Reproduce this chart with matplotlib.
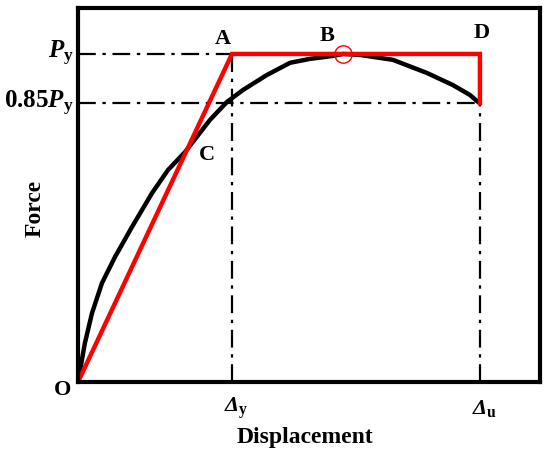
import numpy as np
import matplotlib
matplotlib.use("Agg")
import matplotlib.pyplot as plt

plt.rcParams['font.family'] = ['Liberation Serif', 'DejaVu Serif']
plt.rcParams['font.weight'] = 'bold'
plt.rcParams['mathtext.fontset'] = 'custom'
plt.rcParams['mathtext.rm'] = 'Liberation Serif:bold'
plt.rcParams['mathtext.bf'] = 'Liberation Serif:bold'
plt.rcParams['mathtext.it'] = 'Liberation Serif:italic:bold'
plt.rcParams['mathtext.sf'] = 'Liberation Serif:italic'

# normalised: yield displacement = 1, yield force = 1
dy = 1.0
du = 2.61
py = 1.0
p85 = 0.85 * py

# black skeleton curve
curve_x = [0.0, 0.045, 0.091, 0.156, 0.240, 0.351, 0.481, 0.584, 0.695,
           0.857, 0.968, 1.071, 1.227, 1.377, 1.506, 1.656, 1.721, 1.831,
           2.045, 2.266, 2.435, 2.545, 2.597, 2.61]
curve_y = [0.0, 0.119, 0.210, 0.302, 0.381, 0.473, 0.576, 0.646, 0.701,
           0.799, 0.854, 0.890, 0.936, 0.973, 0.985, 0.994, 1.0, 0.997,
           0.982, 0.942, 0.905, 0.875, 0.854, 0.85]

# red idealised line O-A-D
red_x = [0.0, dy, du, du]
red_y = [0.0, py, py, p85]

peak_x = 1.721
peak_y = 1.0

fig = plt.figure(figsize=(5.5, 4.53), dpi=100)
ax = fig.add_axes([0.1418, 0.1567, 0.84, 0.8256])
ax.set_xlim(0, 3.0)
ax.set_ylim(0, 1.14)

# dash-dot guide lines
dd = dict(color='black', lw=1.6, ls=(0, (8, 3, 1.5, 3)))
ax.plot([0, dy], [py, py], **dd)
ax.plot([0, du], [p85, p85], **dd)
ax.plot([dy, dy], [0, py], **dd)
ax.plot([du, du], [0, p85], **dd)

ax.plot(curve_x, curve_y, color='black', lw=3.2, solid_capstyle='round',
        solid_joinstyle='round')
ax.plot(red_x, red_y, color='red', lw=3.2, solid_joinstyle='miter')
ax.plot([peak_x], [peak_y], 'o', ms=12.5, mfc='none', mec='red', mew=1.0)

for s in ax.spines.values():
    s.set_linewidth(3)
ax.set_xticks([])
ax.set_yticks([])

ax.text(0.942, 1.046, 'A', fontsize=16, ha='center', va='center')
ax.text(1.617, 1.055, 'B', fontsize=16, ha='center', va='center')
ax.text(0.838, 0.692, 'C', fontsize=16, ha='center', va='center')
ax.text(2.623, 1.064, 'D', fontsize=16, ha='center', va='center')
ax.text(-0.097, -0.024, 'O', fontsize=16, ha='center', va='center',
        clip_on=False)

ax.text(-0.03, py, r'$P_{\mathrm{y}}$', fontsize=18, ha='right',
        va='center')
ax.text(-0.03, p85, r'0.85$P_{\mathrm{y}}$', fontsize=18, ha='right',
        va='center')
ax.text(dy + 0.03, -0.08, r'$\mathsf{Δ}_{\mathrm{y}}$', fontsize=16,
        ha='center', va='center')
ax.text(du + 0.03, -0.08, r'$\mathsf{Δ}_{\mathrm{u}}$', fontsize=16,
        ha='center', va='center')

fig.text(305 / 550, 1 - 437 / 453, 'Displacement', fontsize=17,
         ha='center', va='center')
fig.text(35 / 550, 1 - 208 / 453, 'Force', fontsize=17, rotation=90,
         ha='center', va='center')

fig.savefig('out.png', dpi=100)
